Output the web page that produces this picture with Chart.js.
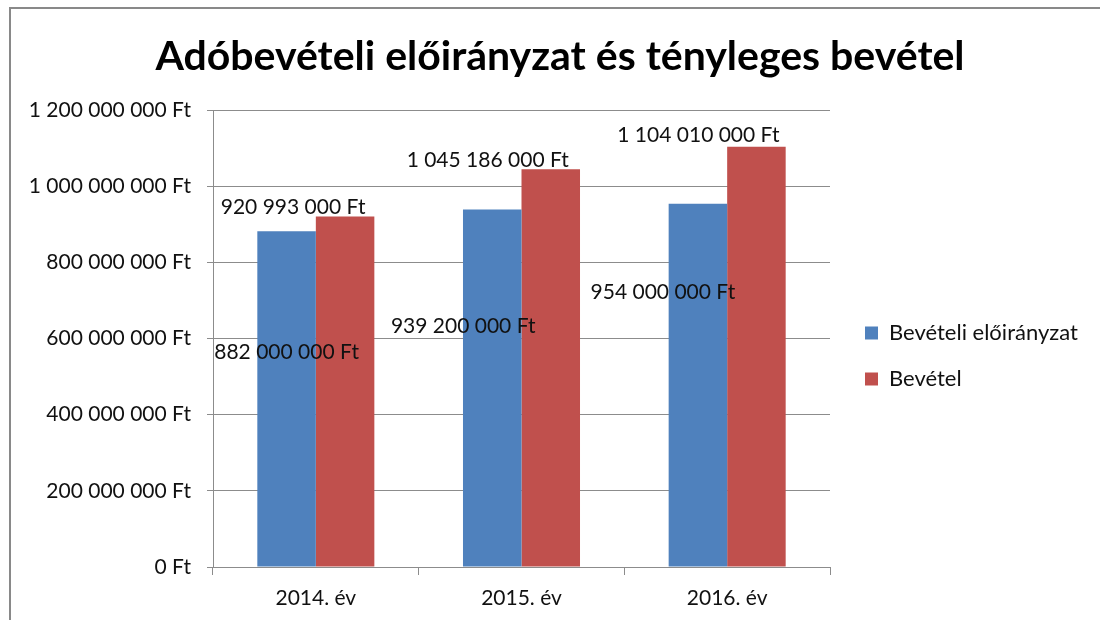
<!DOCTYPE html>
<html><head><meta charset="utf-8">
<script src="https://cdn.jsdelivr.net/npm/chart.js@4.4.1/dist/chart.umd.min.js"></script>
<style>
html,body{margin:0;padding:0;background:#fff;}
#wrap{position:relative;width:1100px;height:620px;overflow:hidden;}
#frame{position:absolute;left:9px;top:7px;width:1100px;height:700px;border:2px solid #898989;box-sizing:border-box;pointer-events:none;}
canvas{position:absolute;left:0;top:0;}
</style></head>
<body>
<div id="wrap"><canvas id="c" width="1100" height="620"></canvas><div id="frame"></div></div>
<script>
const titleText = 'Adóbevételi előirányzat és tényleges bevétel';
const categories = ['2014. év', '2015. év', '2016. év'];
const seriesNames = ['Bevételi előirányzat', 'Bevétel'];
const planned = [882000000, 939200000, 954000000];
const actual = [920993000, 1045186000, 1104010000];
const yTickMax = 1200000000;
const yTickStep = 200000000;

const fmt = v => String(v).replace(/\B(?=(\d{3})+(?!\d))/g, ' ') + ' Ft';
const FONT = 'Lato, "Open Sans", sans-serif';

const labelPlugin = {
  id: 'valueLabels',
  afterDatasetsDraw(chart, args, opts) {
    const ctx = chart.ctx;
    ctx.save();
    ctx.font = '21px ' + FONT;
    ctx.fillStyle = '#111';
    ctx.textAlign = 'center';
    ctx.textBaseline = 'middle';
    chart.data.datasets.forEach((ds, di) => {
      const meta = chart.getDatasetMeta(di);
      meta.data.forEach((el, i) => {
        const off = opts.offsets[di][i];
        ctx.fillText(fmt(ds.data[i]), el.x + off[0], el.y + off[1]);
      });
    });
    ctx.restore();
  }
};

const legendShift = {
  id: 'legendShift',
  beforeInit(chart, args, opts) {
    const lg = chart.legend;
    if (!lg) return;
    const origFit = lg.fit;
    lg.fit = function () { origFit.call(this); if (!this.isHorizontal()) this.width = opts.width; };
    const origDraw = lg.draw;
    lg.draw = function () {
      const c = this.ctx; c.save(); c.translate(opts.dx, opts.dy); origDraw.call(this); c.restore();
    };
  }
};

new Chart(document.getElementById('c'), {
  type: 'bar',
  data: {
    labels: categories,
    datasets: [
      { label: seriesNames[0], data: planned, backgroundColor: '#4F81BD', borderWidth: 0 },
      { label: seriesNames[1], data: actual, backgroundColor: '#C0504D', borderWidth: 0 }
    ]
  },
  options: {
    responsive: false,
    animation: false,
    devicePixelRatio: 1,
    layout: { padding: { left: 20, right: 0, top: 0, bottom: 0 } },
    datasets: { bar: { categoryPercentage: 0.569, barPercentage: 1 } },
    scales: {
      x: {
        grid: { display: true, drawOnChartArea: false, tickLength: 8, color: '#8c8c8c', offset: true },
        border: { display: true, color: '#8c8c8c' },
        ticks: { font: { family: FONT, size: 21 }, color: '#111', padding: 11, maxRotation: 0 },
        afterFit: s => { s.height = 53; }
      },
      y: {
        min: 0, max: yTickMax,
        grid: { color: '#8c8c8c', tickLength: 6 },
        border: { display: true, color: '#8c8c8c' },
        ticks: { stepSize: yTickStep, font: { family: FONT, size: 21 }, color: '#111', padding: 16, callback: v => fmt(v) },
        afterFit: s => { s.width = 193; }
      }
    },
    plugins: {
      title: {
        display: true, text: titleText,
        font: { family: FONT, size: 41, weight: 'bold', lineHeight: 1.2 },
        color: '#000', padding: { top: 32, bottom: 29 }
      },
      legend: {
        position: 'right',
        labels: { font: { family: FONT, size: 22 }, color: '#111', boxWidth: 13, boxHeight: 13, padding: 24 }
      },
      tooltip: { enabled: false },
      valueLabels: {
        offsets: [
          [[0, 121], [-29, 117], [-35, 88]],
          [[-52, -9], [-63, -9], [-58, -12]]
        ]
      },
      legendShift: { width: 270, dx: 11, dy: 46 }
    }
  },
  plugins: [labelPlugin, legendShift]
});
</script>
</body></html>
